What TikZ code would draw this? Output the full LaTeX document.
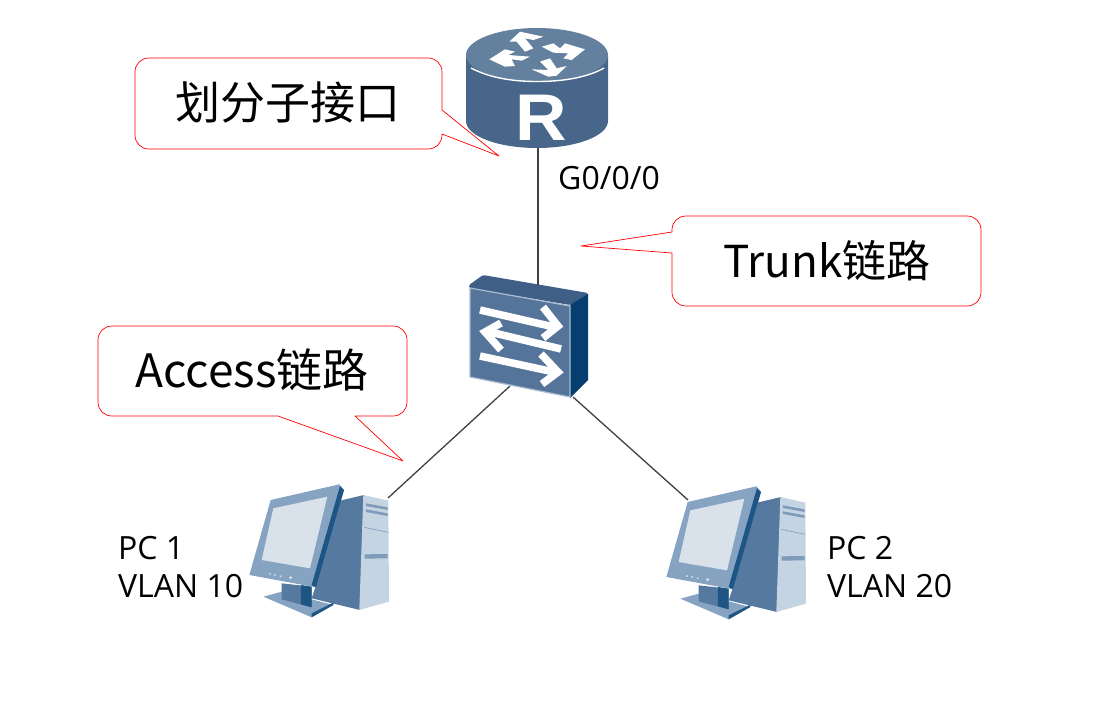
\documentclass[tikz,border=0pt]{standalone}
\usepackage{fontspec}
\setmainfont{Open Sans}
\newfontfamily\cjk{Noto Sans CJK SC}
\newfontfamily\rfont{Liberation Sans}
\definecolor{rtop}{HTML}{64809F}
\definecolor{rbody}{HTML}{476689}
\definecolor{swfront}{HTML}{55749A}
\definecolor{swtop}{HTML}{3F5F87}
\definecolor{swside}{HTML}{063E70}
\definecolor{swedge}{HTML}{A9BCD0}
\definecolor{pclight}{HTML}{D9E1EB}
\definecolor{pcframe}{HTML}{86A4C2}
\definecolor{pcdark}{HTML}{1F5585}
\definecolor{pcside}{HTML}{5679A0}
\definecolor{pctower}{HTML}{C5D4E3}
\definecolor{pcslot}{HTML}{7E9CBA}
\tikzset{
  calloutline/.style={draw=red,line width=0.7pt,fill=white,line join=round},
  calltext/.style={font=\cjk\fontsize{45}{50}\selectfont,text=black,inner sep=0pt,anchor=base},
  lbl/.style={font=\fontsize{32}{36}\selectfont,text=black,inner sep=0pt,anchor=base west,align=left},
  link/.style={draw=black!75,line width=1.3pt},
  anchorbox/.style={inner sep=0pt,outer sep=0pt,minimum width=#1},
  pc/.pic={
    \begin{scope}[scale=0.3333]
      \fill[pcside] (300,92) -- (372,75) -- (360,420) -- (215,385) -- (230,340) -- cycle;
      \fill[pctower] (370,75) -- (445,92) -- (447,395) -- (358,420) -- cycle;
      \fill[pcslot] (378,100) -- (443,112) -- (443,120) -- (378,108) -- cycle;
      \fill[pcslot] (378,118) -- (443,130) -- (443,138) -- (378,126) -- cycle;
      \fill[pcslot] (374,253) -- (443,252) -- (443,265) -- (374,266) -- cycle;
      \draw[pcslot,line width=0.6pt] (372,172) -- (445,187);
      \fill[pcframe] (70,380) -- (125,365) -- (280,405) -- (215,442) -- cycle;
      \fill[pcdark] (215,430) -- (280,398) -- (280,405) -- (215,442) -- cycle;
      \fill[pcside] (125,340) -- (215,350) -- (215,412) -- (125,388) -- cycle;
      \fill[pcdark] (183,345) -- (215,350) -- (215,412) -- (183,403) -- cycle;
      \fill[pcframe] (92,90) -- (298,43) -- (312,60) -- (228,352) -- (28,315) -- cycle;
      \fill[pcdark] (300,48) -- (312,60) -- (228,352) -- (215,345) -- cycle;
      \fill[pclight] (100,115) -- (262,80) -- (210,295) -- (65,270) -- cycle;
      \fill[pclight] (90,312) circle[radius=3] (105,315) circle[radius=3] (122,319) circle[radius=3] (152,323) circle[radius=5];
    \end{scope}
  }
}
\begin{document}
\begin{tikzpicture}[x=1pt,y=-1pt]
\useasboundingbox (0,0) rectangle (1096,724);
% invisible anchors of the devices
\node[anchorbox=142pt,minimum height=120pt] (router) at (537,88) {};
\node[anchorbox=119pt,minimum height=112pt] (switch) at (528,344) {};
\coordinate (sw1) at (510,386);
\coordinate (sw2) at (573,397);
\coordinate (p1) at (388,498);
\coordinate (p2) at (688,500);
\coordinate (rb) at (538,146);
\coordinate (st) at (538,285);
% connectors
\draw[link] (router.south -| rb) -- (switch.north -| st);
\draw[link] (sw1) -- (p1);
\draw[link] (sw2) -- (p2);
% router
\fill[rbody] (466,55) -- (466,121) arc[start angle=180,end angle=360,x radius=71,y radius=-27] -- (608,55) -- cycle;
\fill[rtop] (537,55) ellipse[x radius=71,y radius=27];
\draw[white,line width=1.4pt] (471,68) .. controls (488,77) and (510,81.5) .. (537,81.5) .. controls (565,81.5) and (588,77) .. (604,68);
\begin{scope}[shift={(450,10)},scale=0.3333]
  \fill[white] (178,95) -- (210,65) -- (280,80) -- (250,90) -- (225,85) -- (250,115) -- (225,125) -- (200,95) -- cycle;
  \fill[white] (275,110) -- (310,100) -- (330,115) -- (345,100) -- (405,118) -- (365,150) -- (340,145) -- (355,130) -- (310,128) -- cycle;
  \fill[white] (118,148) -- (165,118) -- (195,125) -- (175,135) -- (240,140) -- (215,152) -- (185,148) -- (195,168) -- (165,170) -- cycle;
  \fill[white] (245,178) -- (295,180) -- (270,155) -- (300,145) -- (320,175) -- (350,168) -- (320,197) -- (295,200) -- cycle;
\end{scope}
\node[font=\rfont\bfseries\fontsize{66}{66}\selectfont,text=white,inner sep=0pt,anchor=base,xscale=1.08] (rlabel) at (541,140) {R};
% switch
\fill[swtop,rounded corners=1.5pt] (469,285) -- (483,275) -- (588,293) -- (588,298) -- (570,305) -- (469,288) -- cycle;
\fill[swside] (570,305) -- (588,294) -- (588,380) -- (570,398) -- cycle;
\fill[swfront,draw=swedge,line width=1.2pt,line join=round] (470,288) -- (570,306) -- (570,397) -- (470,377) -- cycle;
\begin{scope}[white,line width=7.5pt,line cap=butt,line join=miter]
  \draw (480,310) -- (554,327);
  \draw (543,307) -- (558,326) -- (543,338);
  \draw (561,349) -- (490,332);
  \draw (501,323) -- (485,332) -- (501,350);
  \draw (480,356) -- (554,372);
  \draw (541,354) -- (558,372) -- (542,384);
\end{scope}
% PCs
\pic at (240,470) {pc};
\pic at (657,472) {pc};
% callouts
\draw[calloutline] (149,58) -- (428,58) .. controls (436,58) and (442,64) .. (442,72) -- (442,110) -- (499,156) -- (442,134) -- (442,135) .. controls (442,143) and (436,149) .. (428,149) -- (149,149) .. controls (141,149) and (135,143) .. (135,135) -- (135,72) .. controls (135,64) and (141,58) .. (149,58) -- cycle;
\draw[calloutline] (686,216) -- (967,216) .. controls (975,216) and (981,222) .. (981,230) -- (981,292) .. controls (981,300) and (975,306) .. (967,306) -- (686,306) .. controls (678,306) and (672,300) .. (672,292) -- (672,253) -- (581,246) -- (672,232) -- (672,230) .. controls (672,222) and (678,216) .. (686,216) -- cycle;
\draw[calloutline] (112,326) -- (393,326) .. controls (401,326) and (407,332) .. (407,340) -- (407,402) .. controls (407,410) and (401,416) .. (393,416) -- (355,416) -- (403,461) -- (278,416) -- (112,416) .. controls (104,416) and (98,410) .. (98,402) -- (98,340) .. controls (98,332) and (104,326) .. (112,326) -- cycle;
% texts
\node[calltext] (t1) at (288,119) {划分子接口};
\node[calltext,font=\cjk\fontsize{44}{50}\selectfont] (t2) at (827,277) {Trunk链路};
\node[calltext,font=\cjk\fontsize{46}{50}\selectfont] (t3) at (252,387) {Access链路};
\node[lbl] (g) at (558,189) {G0/0/0};
\node[lbl] (pc1a) at (118,559) {PC 1};
\node[lbl] (pc1b) at (118,597) {VLAN 10};
\node[lbl] (pc2a) at (827,559) {PC 2};
\node[lbl] (pc2b) at (827,597) {VLAN 20};
\end{tikzpicture}
\end{document}
